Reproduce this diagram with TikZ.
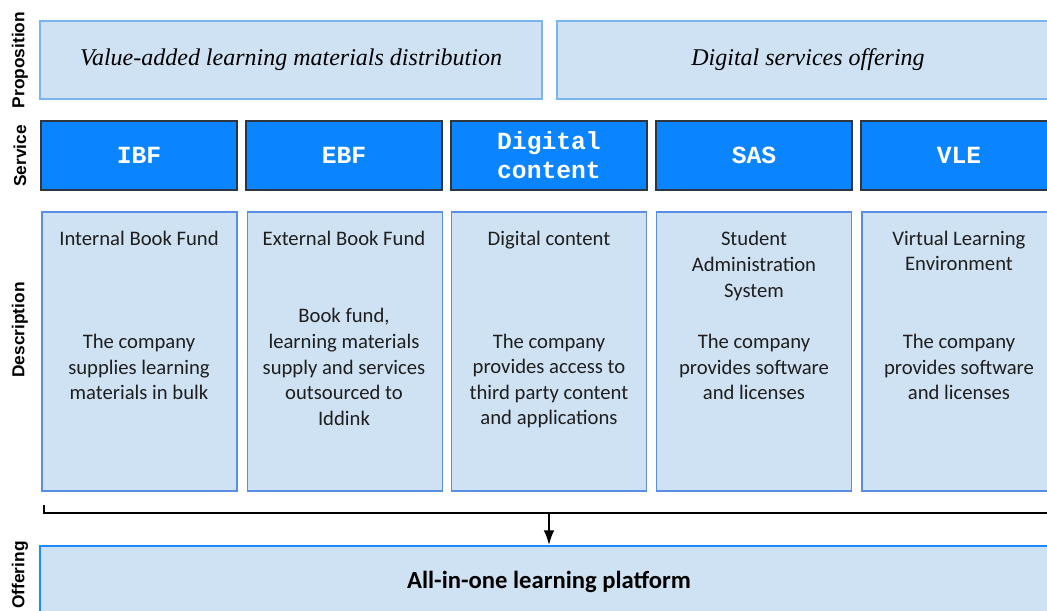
\documentclass[tikz,border=0pt]{standalone}
\usepackage{fontspec}
\setmainfont{Carlito}
\newfontfamily\propfont{Liberation Serif}
\newfontfamily\servfont{Liberation Mono}
\newfontfamily\rowfont{Liberation Sans}
\usetikzlibrary{positioning,arrows.meta}
\definecolor{lightfill}{HTML}{CFE2F3}
\definecolor{propline}{HTML}{7AB4EE}
\definecolor{descline}{HTML}{5A8EE6}
\definecolor{offerline}{HTML}{1A8CFF}
\definecolor{servfill}{HTML}{0A84FF}
\definecolor{servline}{HTML}{2F3640}
\definecolor{txt}{HTML}{1E1E1E}
\tikzset{
  rowlab/.style={rotate=90, inner sep=0pt, font=\rowfont\bfseries\fontsize{13}{15}\selectfont},
  prop/.style={draw=propline, line width=0.9pt, fill=lightfill, minimum width=376.5pt, minimum height=58.5pt, inner sep=0pt, font=\propfont\itshape\fontsize{18}{21}\selectfont},
  serv/.style={draw=servline, line width=1.1pt, fill=servfill, text=white, minimum width=147pt, minimum height=51.75pt, inner sep=0pt, align=center, font=\servfont\bfseries\fontsize{18.5}{22}\selectfont},
  desc/.style={draw=descline, line width=0.9pt, fill=lightfill, minimum width=146.25pt, minimum height=209.25pt, inner sep=0pt},
  dtext/.style={align=center, inner sep=0pt, text=txt, font=\fontsize{15.5}{19.2}\selectfont},
  offer/.style={draw=offerline, line width=1.5pt, fill=lightfill, minimum width=763.5pt, minimum height=54pt, inner sep=0pt, font=\bfseries\fontsize{18.5}{21}\selectfont}
}
\begin{document}
\begin{tikzpicture}[x=0.75pt, y=-0.75pt, >={Latex[length=11pt,width=8pt]}]
\useasboundingbox (0,0) rectangle (1047,611);
\clip (0,0) rectangle (1047,611);
% row labels
\node[rowlab] (lprop) at (20,60) {Proposition};
\node[rowlab] (lserv) at (20,156) {Service};
\node[rowlab] (ldesc) at (20,330) {Description};
\node[rowlab] (loffer) at (20,575) {Offering};
% propositions
\node[prop] (prop1) at (291,60) {Value-added learning materials distribution};
\node[prop] (prop2) at (808,60) {Digital services offering};
% services
\node[serv] (ibf) at (139,155.5) {IBF};
\node[serv] (ebf) at (344,155.5) {EBF};
\node[serv] (dig) at (549,155.5) {Digital\\content};
\node[serv] (sas) at (754,155.5) {SAS};
\node[serv] (vle) at (959,155.5) {VLE};
% descriptions
\node[desc] (dibf) at (139.5,351.5) {};
\node[desc] (debf) at (345,351.5) {};
\node[desc] (ddig) at (549,351.5) {};
\node[desc] (dsas) at (754,351.5) {};
\node[desc] (dvle) at (959.5,351.5) {};
\node[dtext] (tibf) at (139,238) {Internal Book Fund};
\node[dtext] (tebf) at (344,238) {External Book Fund};
\node[dtext] (tdig) at (549,240) {Digital content};
\node[dtext] (tsas) at (754,266) {Student\\Administration\\System};
\node[dtext] (tvle) at (959,251) {Virtual Learning\\Environment};
\node[dtext] (bibf) at (139,367) {The company\\supplies learning\\materials in bulk};
\node[dtext] (bebf) at (344,367) {Book fund,\\learning materials\\supply and services\\outsourced to\\Iddink};
\node[dtext] (bdig) at (549,381) {The company\\provides access to\\third party content\\and applications};
\node[dtext] (bsas) at (754,367) {The company\\provides software\\and licenses};
\node[dtext] (bvle) at (959,367) {The company\\provides software\\and licenses};
% offering
\node[offer] (offer) at (549,582) {All-in-one learning platform};
\coordinate (brl) at (44,505);
\coordinate (brr) at (1060,513);
\coordinate (brm) at (offer.north |- brr);
\draw[line width=1.4pt] (brl) |- (brr);
\draw[->, line width=1.4pt] (brm) -- (offer.north);
\end{tikzpicture}
\end{document}
